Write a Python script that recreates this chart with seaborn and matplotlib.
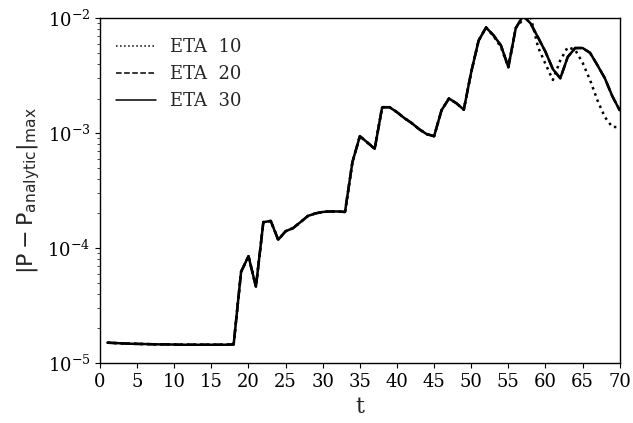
import numpy as np
import pandas as pd
import matplotlib
matplotlib.use("Agg")
import matplotlib.pyplot as plt
import seaborn as sns

# time steps
t = list(range(1, 71))

# max error, ETA 30
err_eta30 = [1.50e-5, 1.49e-5, 1.48e-5, 1.47e-5, 1.465e-5, 1.46e-5, 1.455e-5, 1.45e-5, 1.45e-5, 1.445e-5,
             1.44e-5, 1.44e-5, 1.44e-5, 1.44e-5, 1.44e-5, 1.44e-5, 1.44e-5, 1.45e-5, 6.2e-5, 8.5e-5,
             4.6e-5, 1.68e-4, 1.72e-4, 1.18e-4, 1.40e-4, 1.49e-4, 1.68e-4, 1.90e-4, 2.00e-4, 2.06e-4,
             2.08e-4, 2.08e-4, 2.06e-4, 5.6e-4, 9.4e-4, 8.3e-4, 7.3e-4, 1.68e-3, 1.68e-3, 1.52e-3,
             1.35e-3, 1.22e-3, 1.08e-3, 9.8e-4, 9.4e-4, 1.58e-3, 2.0e-3, 1.82e-3, 1.6e-3, 3.4e-3,
             6.4e-3, 8.3e-3, 7.1e-3, 5.8e-3, 3.75e-3, 8.2e-3, 1.05e-2, 9.0e-3, 6.8e-3, 5.1e-3,
             3.6e-3, 3.0e-3, 4.6e-3, 5.5e-3, 5.5e-3, 5.0e-3, 3.9e-3, 3.0e-3, 2.1e-3, 1.58e-3]

# ETA 20 sits on top of ETA 30
err_eta20 = list(err_eta30)

# ETA 10 splits off after t~56
err_eta10 = [1.50e-5, 1.49e-5, 1.48e-5, 1.47e-5, 1.465e-5, 1.46e-5, 1.455e-5, 1.45e-5, 1.45e-5, 1.445e-5,
             1.44e-5, 1.44e-5, 1.44e-5, 1.44e-5, 1.44e-5, 1.44e-5, 1.44e-5, 1.45e-5, 6.2e-5, 8.5e-5,
             4.6e-5, 1.68e-4, 1.72e-4, 1.18e-4, 1.40e-4, 1.49e-4, 1.68e-4, 1.90e-4, 2.00e-4, 2.06e-4,
             2.08e-4, 2.08e-4, 2.06e-4, 5.6e-4, 9.4e-4, 8.3e-4, 7.3e-4, 1.68e-3, 1.68e-3, 1.52e-3,
             1.35e-3, 1.22e-3, 1.08e-3, 9.8e-4, 9.4e-4, 1.58e-3, 2.0e-3, 1.82e-3, 1.6e-3, 3.4e-3,
             6.4e-3, 8.3e-3, 7.0e-3, 5.6e-3, 3.75e-3, 8.2e-3, 9.8e-3, 1.03e-2, 5.6e-3, 4.0e-3,
             2.9e-3, 4.3e-3, 5.6e-3, 5.3e-3, 4.1e-3, 2.9e-3, 1.93e-3, 1.38e-3, 1.13e-3, 1.13e-3]

labels = ["ETA  10", "ETA  20", "ETA  30"]
styles = [":", "--", "-"]

sns.set_style("ticks")
plt.rcParams['font.family'] = ['DejaVu Serif']
plt.rcParams['mathtext.fontset'] = 'dejavusans'

fig, ax = plt.subplots(figsize=(6.33, 4.23), dpi=100)
fig.subplots_adjust(left=0.158, right=0.979, top=0.957, bottom=0.142)

for y, lab, ls in zip([err_eta10, err_eta20, err_eta30], labels, styles):
    sns.lineplot(x=t, y=y, ax=ax, color='k', linestyle=ls, linewidth=1.8, label=lab)

ax.set_yscale('log')
ax.set_xlim(0, 70)
ax.set_ylim(1e-5, 1e-2)
ax.set_xticks(range(0, 71, 5))
ax.tick_params(labelsize=13, colors='k')
for s in ax.spines.values():
    s.set_color('k')
    s.set_linewidth(1.0)

ax.set_xlabel('t', fontsize=16)
ax.set_ylabel(r'$|\mathrm{P} - \mathrm{P}_{\mathrm{analytic}}|_{\mathrm{max}}$', fontsize=16)

leg = ax.legend(loc='upper left', frameon=False, fontsize=13, handlelength=2.2,
                bbox_to_anchor=(0.0, 0.99))
for h in leg.get_lines():
    h.set_linewidth(1.1)

plt.savefig('out.png', dpi=100)
